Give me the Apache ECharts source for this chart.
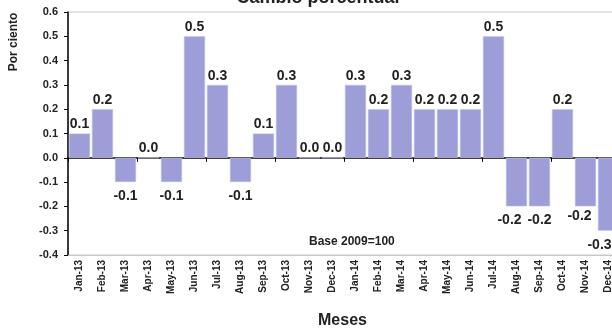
<!DOCTYPE html>
<html><head><meta charset="utf-8">
<script src="https://cdn.jsdelivr.net/npm/echarts@6/dist/echarts.min.js"></script>
<style>html,body{margin:0;padding:0;background:#fff}#c{width:612px;height:330px}</style>
</head><body><div id="c"></div>
<script>
const categories = ["Jan-13","Feb-13","Mar-13","Apr-13","May-13","Jun-13","Jul-13","Aug-13","Sep-13","Oct-13","Nov-13","Dec-13","Jan-14","Feb-14","Mar-14","Apr-14","May-14","Jun-14","Jul-14","Aug-14","Sep-14","Oct-14","Nov-14","Dec-14"];
const values = [0.1,0.2,-0.1,0.0,-0.1,0.5,0.3,-0.1,0.1,0.3,0.0,0.0,0.3,0.2,0.3,0.2,0.2,0.2,0.5,-0.2,-0.2,0.2,-0.2,-0.3];
const yTicks = {min:-0.4, max:0.6, interval:0.1};
const FONT = "Liberation Sans";

// label nudges seen in the original (overlap avoidance)
const labelNudge = {19:[-7,0], 22:[-6,-4], 23:[-9,0]};

const chart = echarts.init(document.getElementById('c'));
chart.setOption({
  animation:false,
  title:{text:"Cambio porcentual", left:313, top:-16, textAlign:'center',
    textStyle:{fontFamily:FONT, fontWeight:'bold', fontSize:18, color:'#222'}},
  grid:{left:68, top:12, right:-8, height:243, outerBoundsMode:'none', containLabel:false,
    show:true, borderColor:'#c8c8c8', borderWidth:1, backgroundColor:'transparent'},
  graphic:[
    {type:'text', left:309, top:236, style:{text:"Base 2009=100", font:"bold 12px "+FONT, fill:'#222'}},
    {type:'text', left:318, top:313, style:{text:"Meses", font:"bold 16px "+FONT, fill:'#222'}},
    {type:'text', x:14, y:42, rotation:Math.PI/2, style:{text:"Por ciento", font:"bold 12px "+FONT, fill:'#222', align:'center', verticalAlign:'middle'}}
  ],
  xAxis:[
    {type:'category', data:categories, axisLine:{onZero:true, lineStyle:{color:'#000', width:1.5}},
     axisTick:{show:true, length:4, lineStyle:{color:'#000'}}, axisLabel:{show:false}, splitLine:{show:false}},
    {type:'category', data:categories, position:'bottom', axisLine:{onZero:false, lineStyle:{color:'#c8c8c8'}},
     axisTick:{show:false}, axisLabel:{rotate:90, interval:0, fontFamily:FONT, fontWeight:'bold', fontSize:10, color:'#222', margin:5}}
  ],
  yAxis:{type:'value', min:yTicks.min, max:yTicks.max, interval:yTicks.interval,
    axisLine:{show:true, lineStyle:{color:'#000', width:1.5}},
    axisTick:{show:true, length:4, lineStyle:{color:'#000'}},
    splitLine:{show:false},
    axisLabel:{fontFamily:FONT, fontWeight:'bold', fontSize:11, color:'#222', margin:10, formatter:v=>v.toFixed(1)}},
  series:[{type:'bar', xAxisIndex:0, barCategoryGap:'8%',
    data: values.map((v,i) => {
      const d = {value:v};
      if (v < 0) d.label = {position:'bottom', distance:7};
      if (labelNudge[i]) d.label = Object.assign(d.label || {}, {offset:labelNudge[i]});
      return d;
    }),
    itemStyle:{color:'#9d9dd8', borderColor:'#c4c4ee', borderWidth:0.6},
    label:{show:true, fontFamily:FONT, fontWeight:'bold', fontSize:14, color:'#222',
      position:'top', distance:2, formatter:p=>p.value.toFixed(1)}
  }]
});
</script></body></html>
